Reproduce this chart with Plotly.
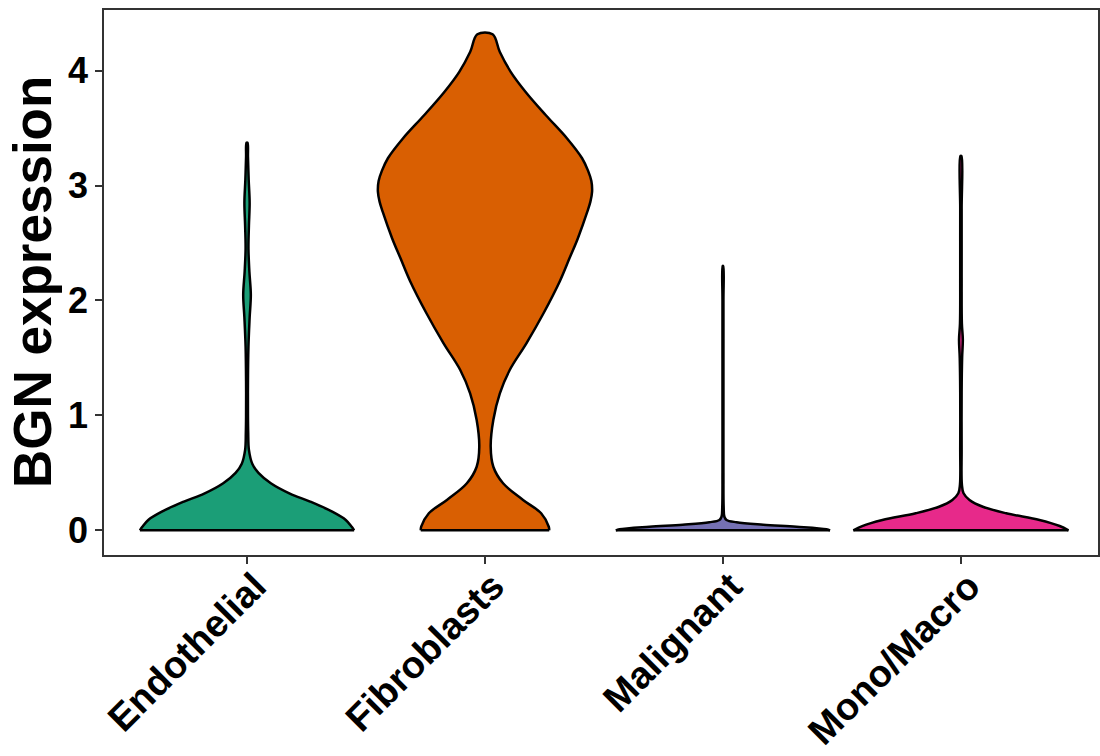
import plotly.graph_objects as go

# ---- data ----
categories = ["Endothelial", "Fibroblasts", "Malignant", "Mono/Macro"]
colors = ["#1B9E77", "#D95F02", "#7570B3", "#E7298A"]

# violin density profiles: expression value (y) and half-width (in category units)
endo_y = [0, 0.03, 0.09, 0.16, 0.25, 0.32, 0.41, 0.50, 0.58, 0.70, 0.85, 1.0, 1.3, 1.6,
          1.85, 2.05, 2.25, 2.45, 2.65, 2.85, 3.05, 3.25, 3.373]
endo_hw = [0.45, 0.44, 0.415, 0.36, 0.265, 0.18, 0.10, 0.048, 0.022, 0.008, 0.005, 0.004,
           0.004, 0.006, 0.011, 0.016, 0.010, 0.006, 0.008, 0.011, 0.007, 0.004, 0.002]

fib_y = [0, 0.031, 0.148, 0.264, 0.409, 0.553, 0.728, 0.96, 1.192, 1.395, 1.627, 1.889,
         2.17, 2.367, 2.54, 2.773, 2.86, 2.947, 3.04, 3.13, 3.238, 3.41, 3.614, 3.817,
         3.99, 4.165, 4.317]
fib_hw = [0.27, 0.268, 0.236, 0.16, 0.076, 0.035, 0.024, 0.035, 0.0625, 0.104, 0.174, 0.246,
          0.315, 0.355, 0.39, 0.43, 0.443, 0.45, 0.447, 0.433, 0.408, 0.345, 0.255, 0.17,
          0.108, 0.062, 0.032]

mal_y = [0, 0.009, 0.031, 0.049, 0.07, 0.09, 0.118, 0.2, 0.5, 1.0, 1.5, 2.0, 2.3]
mal_hw = [0.45, 0.435, 0.309, 0.169, 0.057, 0.015, 0.006, 0.003, 0.002, 0.002, 0.002,
          0.002, 0.001]

mono_y = [0, 0.037, 0.09, 0.148, 0.205, 0.264, 0.322, 0.4, 0.7, 1.2, 1.5, 1.66, 1.8,
          2.2, 2.8, 3.258]
mono_hw = [0.452, 0.415, 0.33, 0.19, 0.092, 0.036, 0.011, 0.004, 0.003, 0.003, 0.005,
           0.008, 0.004, 0.003, 0.003, 0.002]

profiles_y = [endo_y, fib_y, mal_y, mono_y]
profiles_hw = [endo_hw, fib_hw, mal_hw, mono_hw]

y_ticks = [0, 1, 2, 3, 4]
y_title = "BGN expression"

FONT = "Liberation Sans, Arial, sans-serif"
LW = 2.5

fig = go.Figure()
for i, (cat, col, ys, hws) in enumerate(zip(categories, colors, profiles_y, profiles_hw)):
    c = i + 1
    # open outline: left side bottom->top, right side top->bottom; fill closes along y=min
    xs = [c - h for h in hws] + [c + h for h in reversed(hws)]
    yy = list(ys) + list(reversed(ys))
    fig.add_trace(go.Scatter(
        x=xs, y=yy, mode="lines", fill="toself", fillcolor=col,
        line=dict(color="black", width=LW, shape="spline", smoothing=1.0),
        name=cat, showlegend=False, hoverinfo="skip"))
    # flat base of the violin
    fig.add_trace(go.Scatter(
        x=[c - hws[0], c + hws[0]], y=[ys[0], ys[0]], mode="lines",
        line=dict(color="black", width=LW), showlegend=False, hoverinfo="skip"))

axis_col = "#333333"
fig.update_layout(
    width=1100, height=756,
    margin=dict(l=104, r=2, t=10, b=201),
    plot_bgcolor="white", paper_bgcolor="white",
    xaxis=dict(range=[0.399, 4.576], tickvals=[1, 2, 3, 4], ticktext=categories,
               tickangle=-45, showgrid=False, zeroline=False,
               showline=True, linecolor=axis_col, linewidth=1.6, mirror=True,
               ticks="outside", ticklen=7, tickwidth=1.6, tickcolor=axis_col,
               tickfont=dict(family=FONT, size=38, color="black", weight="bold"),
               ticklabelstandoff=-15, ticklabelshift=8,
               automargin=False),
    yaxis=dict(range=[-0.215, 4.528], tickvals=y_ticks, ticktext=[str(t) for t in y_ticks],
               showgrid=False, zeroline=False,
               showline=True, linecolor=axis_col, linewidth=1.6, mirror=True,
               ticks="outside", ticklen=7, tickwidth=1.6, tickcolor=axis_col,
               tickfont=dict(family=FONT, size=36, color="black", weight="bold"),
               automargin=False),
    annotations=[dict(text=y_title, xref="paper", yref="paper",
                      x=-(104 - 32) / 994, y=(756 - 201 - 282) / 545,
                      xanchor="center", yanchor="middle", textangle=-90, showarrow=False,
                      font=dict(family=FONT, size=53, color="black", weight="bold"))],
)

fig.write_html("out.html", config={"displayModeBar": False},
               post_script="document.body.style.margin='0';")
